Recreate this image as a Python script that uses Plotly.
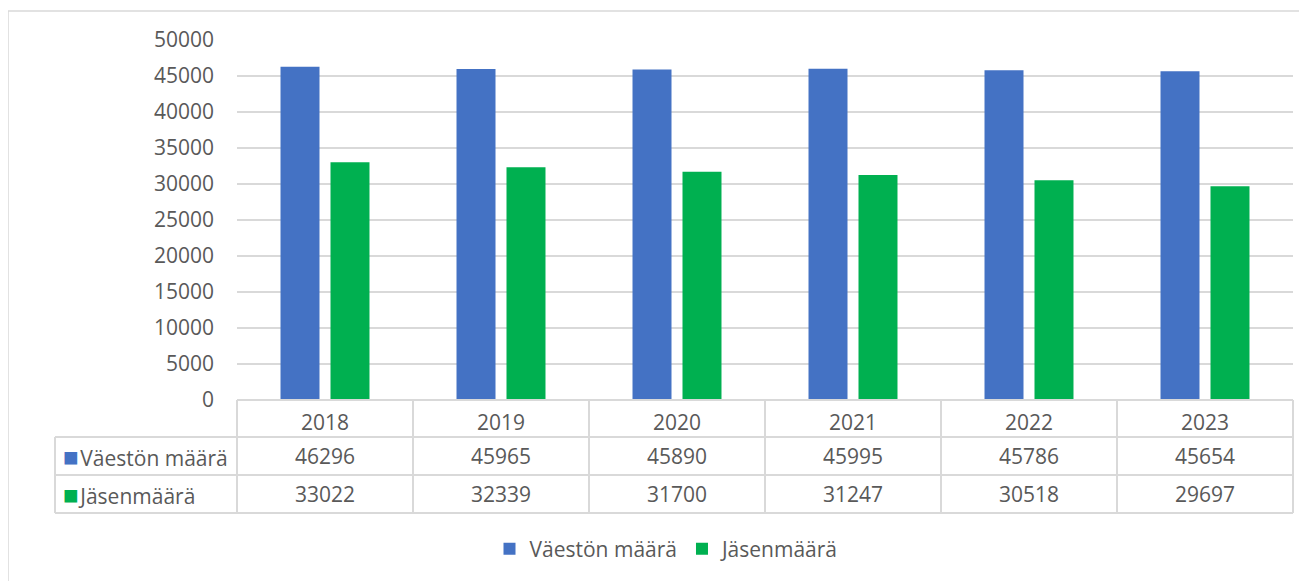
import plotly.graph_objects as go

years = ["2018", "2019", "2020", "2021", "2022", "2023"]
vaesto = [46296, 45965, 45890, 45995, 45786, 45654]
jasenet = [33022, 32339, 31700, 31247, 30518, 29697]
series_names = ["Väestön määrä", "Jäsenmäärä"]
colors = ["#4472C4", "#00B050"]

FONT = "Open Sans"
TXT = "#595959"
GRID = "#D9D9D9"

# the page body adds an 8px margin, so work in page pixels minus 8
OFF = 8
W, H = 1307 - OFF, 581 - OFF
L, R, T, B = 237 - OFF, 1293 - OFF, 40 - OFF, 400 - OFF
pw, ph = R - L, B - T


def px_x(x):
    return (x - OFF - L) / pw


def px_y(y):
    return (B - (y - OFF)) / ph


fig = go.Figure()
for name, vals, col in zip(series_names, [vaesto, jasenet], colors):
    fig.add_trace(go.Bar(x=years, y=vals, name=name, marker_color=col,
                         marker_line_width=0))

shapes = []
line = dict(color=GRID, width=2)
# outer chart border
shapes.append(dict(type="rect", xref="paper", yref="paper",
                   x0=px_x(8), x1=px_x(1320), y0=px_y(600), y1=px_y(11),
                   line=dict(color=GRID, width=1.5), layer="below"))
# table rows
for y in [437, 475, 513]:
    shapes.append(dict(type="line", xref="paper", yref="paper",
                       x0=px_x(55), x1=1, y0=px_y(y), y1=px_y(y), line=line))
shapes.append(dict(type="line", xref="paper", yref="paper",
                   x0=0, x1=1, y0=0, y1=0, line=line))
# table columns
n = len(years)
for i in range(n + 1):
    shapes.append(dict(type="line", xref="paper", yref="paper",
                       x0=i / n, x1=i / n, y0=0, y1=px_y(513), line=line))
shapes.append(dict(type="line", xref="paper", yref="paper",
                   x0=px_x(55), x1=px_x(55), y0=px_y(437), y1=px_y(513), line=line))

annotations = []
row_centers = [456, 494]
for vals, yc in zip([vaesto, jasenet], row_centers):
    for i, v in enumerate(vals):
        annotations.append(dict(x=i, xref="x", y=px_y(yc), yref="paper",
                                yanchor="middle", text=str(v), showarrow=False,
                                font=dict(family=FONT, size=21, color=TXT)))
for name, col, yc in zip(series_names, colors, row_centers):
    annotations.append(dict(x=px_x(61), xref="paper", y=px_y(yc), yref="paper",
                            xanchor="left", yanchor="middle",
                            text=(f"<span style='color:{col};font-size:26px'>■</span>"
                                  f"<span style='font-size:6px'> </span>{name}"),
                            showarrow=False,
                            font=dict(family=FONT, size=21, color=TXT)))

fig.update_layout(
    width=W, height=H,
    margin=dict(l=L, r=W - R, t=T, b=H - B, pad=0),
    paper_bgcolor="white", plot_bgcolor="white",
    barmode="group", bargap=0.432, bargroupgap=0.22,
    font=dict(family=FONT, size=21, color=TXT),
    shapes=shapes, annotations=annotations,
    showlegend=True,
    legend=dict(orientation="h", x=px_x(667), xanchor="center",
                y=px_y(549), yanchor="middle",
                font=dict(family=FONT, size=21, color=TXT),
                traceorder="normal"),
)
fig.update_yaxes(range=[0, 50000], dtick=5000, tickformat="d",
                 gridcolor=GRID, gridwidth=2,
                 zeroline=False, showline=False, ticks="",
                 ticklabelstandoff=22, tickfont=dict(size=21, color=TXT))
fig.update_xaxes(type="category", range=[-0.5, len(years) - 0.5],
                 showgrid=False, showline=False,
                 ticks="outside", ticklen=4, tickcolor="rgba(0,0,0,0)",
                 tickfont=dict(size=21, color=TXT))

fig.write_html("out.html")
